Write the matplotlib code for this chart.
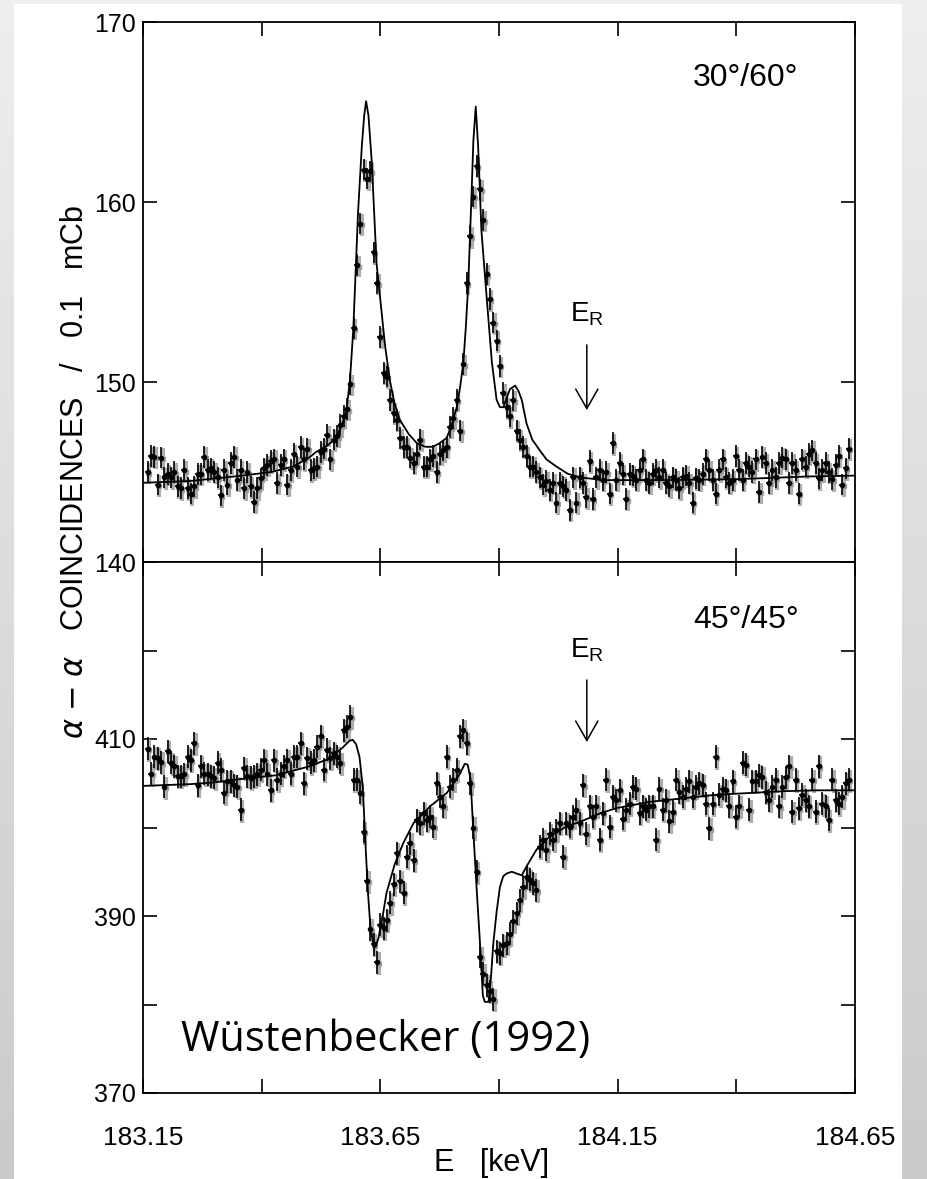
# Espectro de coincidencias alfa-alfa alrededor de 183.7 keV (Wüstenbecker 1992)
# Dos paneles: 30°/60° (arriba) y 45°/45° (abajo), datos con barras de error y ajuste.

import numpy as np  # Arreglos numéricos
import matplotlib.pyplot as plt  # Gráficos
import matplotlib.transforms as mtransforms

# Malla de energía del barrido (keV)
E_start = 183.16
E_step = 0.007

# Cuentas medidas, panel 30°/60°
counts_30_60 = [
    145.0, 145.9, 145.85, 144.3, 145.8, 144.7, 144.9, 144.7, 145.0, 144.2,
    144.1, 145.1, 144.1, 143.8, 144.2, 144.9, 144.9, 145.85, 145.1, 145.2,
    145.0, 144.7, 143.7, 145.1, 144.3, 145.5, 145.85, 144.55, 145.1, 144.1,
    145.0, 144.2, 143.35, 144.1, 144.65, 145.2, 145.4, 145.6, 145.7, 144.4,
    145.4, 145.7, 144.3, 145.1, 146.0, 145.3, 146.4, 145.7, 146.3, 145.1,
    145.2, 145.3, 146.1, 146.3, 147.05, 145.7, 146.8, 147.0, 147.6, 148.1,
    148.5, 149.9,
    153.0, 156.5, 158.8, 161.8, 161.3, 161.7, 157.2, 155.5, 152.5, 150.5,
    150.3, 149.0, 148.3, 147.9, 146.9, 146.4, 146.4, 145.8, 145.5, 146.0,
    146.8, 145.3, 145.3, 145.7, 145.9, 145.0, 146.0, 146.2, 146.4, 147.5,
    148.0, 149.0, 147.3, 151.0, 155.5, 158.1, 160.3, 162.0, 160.7, 159.0,
    156.0, 154.6, 153.3, 152.3, 150.9, 149.4, 148.6, 148.1, 149.0, 147.3,
    146.8, 146.4, 145.9, 145.3, 145.3, 145.0, 144.7, 144.3, 144.5, 144.0,
    144.4, 143.3,
    144.4, 144.2, 144.0, 142.9, 144.7, 143.3, 144.7, 144.4, 143.6, 145.6,
    143.5, 144.7, 145.1, 144.55, 145.0, 143.8, 146.6, 144.55, 145.5, 144.9,
    143.5, 144.9, 144.8, 144.55, 145.1, 145.7, 144.55, 144.4, 144.9, 145.1,
    144.7, 145.1, 144.4, 144.2, 144.7, 144.55, 144.1, 144.7, 144.8, 144.4,
    143.3, 144.65, 144.55, 144.9, 145.7, 145.1, 144.55, 143.8, 145.1, 145.7,
    144.7, 144.4, 144.55, 145.9, 145.1, 144.55, 145.5, 145.3, 145.0, 145.7,
    143.9, 145.85, 145.5, 144.4, 145.1, 144.7, 145.5, 145.8, 145.7, 144.4,
    145.5, 145.1, 143.8, 145.7, 145.3, 146.0, 146.2, 145.5, 144.65, 145.1,
    145.5, 145.0, 144.6, 145.4, 145.9, 144.3, 145.2, 146.3,
]

# Cuentas medidas, panel 45°/45°
counts_45_45 = [
    408.9, 406.1, 408.0, 407.8, 407.4, 404.6, 408.6, 407.3, 406.9, 405.8,
    405.8, 406.0, 408.0, 407.6, 409.5, 404.8, 406.9, 406.1, 406.0, 405.8,
    405.6, 407.3, 406.5, 403.9, 405.2, 405.2, 404.8, 404.6, 402.0, 406.7,
    405.8, 405.6, 405.8, 406.0, 406.5, 407.6, 406.0, 404.2, 407.6, 405.4,
    406.1, 406.9, 407.6, 406.1, 408.0, 408.0, 409.5, 405.0, 407.8, 407.3,
    407.6, 409.1, 410.3, 406.5, 408.8, 407.8, 408.4, 408.0, 407.3, 411.0,
    411.4, 412.5, 405.4,
    405.4, 403.9, 399.5, 394.0, 388.5, 386.8, 384.8, 389.0, 388.6, 389.5,
    391.5, 393.6, 397.1, 393.9, 392.6, 396.7, 398.2, 396.3, 400.8, 400.5,
    401.6, 400.8, 401.2, 400.1, 405.0, 403.5, 402.4, 408.0, 404.6, 405.4,
    406.5, 410.3, 411.0, 409.5, 405.0, 400.0, 395.0, 385.4, 383.5, 382.2,
    381.5, 380.6, 386.0, 385.8, 386.7, 386.9, 388.0, 389.4, 390.3, 391.8,
    393.3, 394.4, 394.1, 393.7, 392.9, 397.8, 398.6, 397.5, 399.3, 398.6,
    399.7, 400.5, 396.7, 400.5, 400.1, 401.2, 402.0, 400.5, 404.8, 399.3,
    402.4, 401.2, 402.4, 398.6, 401.6, 405.4, 400.1, 403.5,
    403.1, 404.2, 401.0, 402.0, 402.7, 404.6, 404.4, 401.6, 402.4, 402.0,
    402.4, 402.4, 398.6, 404.4, 402.0, 403.1, 400.7, 401.8, 405.4, 404.0,
    403.5, 404.4, 405.2, 403.5, 404.6, 405.0, 404.8, 402.7, 399.9, 402.7,
    408.0, 403.7, 404.4, 404.2, 402.4, 405.2, 401.2, 402.4, 407.3, 407.1,
    402.0, 405.2, 405.2, 405.9, 405.7, 404.0, 403.1, 404.6, 405.4, 402.4,
    404.6, 405.7, 406.9, 401.8, 405.4, 402.2, 403.7, 403.1, 402.4, 405.4,
    401.8, 406.9, 402.7, 402.4, 400.9, 405.4, 403.1, 402.7, 403.5, 405.0,
    405.4,
]

# Curva de ajuste, panel 30°/60°
fit_30_60_E = [
    183.15, 183.25, 183.36, 183.42, 183.466, 183.50, 183.514, 183.54, 183.557, 183.57,
    183.578, 183.586, 183.593, 183.603, 183.611, 183.616, 183.620, 183.625, 183.632, 183.642,
    183.653, 183.660, 183.670, 183.680, 183.691, 183.71, 183.727, 183.745, 183.761, 183.775,
    183.790, 183.80, 183.811, 183.818, 183.825, 183.830, 183.835, 183.842, 183.846, 183.851,
    183.856, 183.863, 183.874, 183.885, 183.895, 183.902, 183.909, 183.916, 183.923, 183.934,
    183.941, 183.948, 183.958, 183.970, 183.986, 184.00, 184.021, 184.045, 184.071, 184.12,
    184.25, 184.40, 184.55, 184.65,
]
fit_30_60 = [
    144.4, 144.5, 144.8, 145.0, 145.3, 145.8, 146.1, 146.5, 146.9, 147.7,
    148.3, 150.1, 152.9, 159.4, 163.1, 164.8, 165.6, 164.8, 162.2, 156.6,
    153.8, 152.0, 150.1, 148.8, 147.9, 147.1, 146.6, 146.4, 146.4, 146.6,
    146.9, 147.6, 148.6, 149.7, 151.1, 153.0, 155.3, 160.3, 163.4, 165.3,
    163.1, 158.4, 154.7, 151.1, 149.0, 148.6, 148.6, 149.1, 149.6, 149.8,
    149.5, 149.0, 147.7, 146.8, 146.2, 145.7, 145.3, 144.9, 144.7, 144.55,
    144.55, 144.6, 144.75, 144.8,
]

# Curva de ajuste, panel 45°/45°
fit_45_45_E = [
    183.15, 183.25, 183.30, 183.36, 183.43, 183.50, 183.543, 183.57, 183.585, 183.592,
    183.599, 183.606, 183.613, 183.619, 183.624, 183.629, 183.635, 183.640, 183.646, 183.655,
    183.663, 183.68, 183.698, 183.72, 183.755, 183.79, 183.818, 183.828, 183.834, 183.840,
    183.846, 183.853, 183.860, 183.866, 183.870, 183.878, 183.883, 183.888, 183.895, 183.902,
    183.909, 183.916, 183.927, 183.937, 183.948, 183.958, 183.979, 184.007, 184.042, 184.078,
    184.113, 184.148, 184.218, 184.288, 184.358, 184.429, 184.499, 184.569, 184.65,
]
fit_45_45 = [
    404.7, 404.9, 405.1, 405.5, 405.9, 406.9, 407.8, 409.0, 409.8, 409.9,
    409.4, 408.0, 404.6, 397.8, 392.6, 388.8, 386.9, 386.5, 387.5, 390.0,
    392.6, 395.8, 398.2, 400.5, 402.4, 403.9, 406.1, 407.2, 407.1, 405.5,
    399.5, 393.0, 386.9, 381.0, 380.3, 380.3, 383.0, 386.9, 390.5, 393.3,
    394.5, 394.8, 395.0, 394.8, 394.6, 395.6, 397.5, 399.0, 400.1, 400.8,
    401.6, 402.2, 402.9, 403.3, 403.7, 403.9, 404.1, 404.2, 404.2,
]

# Errores estadísticos típicos de cada panel
err_30_60 = 0.6
err_45_45 = 1.3
E_err = 0.006

# Posición de la resonancia E_R
E_R = 184.085

x_ticks = [183.15, 183.40, 183.65, 183.90, 184.15, 184.40, 184.65]
x_ticklabels = ['183.15', '', '183.65', '', '184.15', '', '184.65']

plt.rcParams['font.family'] = ['Liberation Sans', 'DejaVu Sans']

fig = plt.figure(figsize=(9.28, 11.79), dpi=100)

# Fondo gris con degradado y hoja blanca
bg = fig.add_axes([0, 0, 1, 1], zorder=-10)
bg.imshow(np.linspace(0.79, 0.93, 256).reshape(-1, 1), extent=[0, 1, 0, 1],
          aspect='auto', cmap='gray', vmin=0, vmax=1, origin='lower')
bg.add_patch(plt.Rectangle((14 / 928, 0), (902 - 14) / 928, 1 - 4 / 1179,
                           facecolor='white', edgecolor='none'))
bg.set_xlim(0, 1)
bg.set_ylim(0, 1)
bg.axis('off')

ax1 = fig.add_axes([143 / 928, 1 - 562 / 1179, 712 / 928, 540 / 1179])
ax2 = fig.add_axes([143 / 928, 1 - 1093 / 1179, 712 / 928, 531 / 1179])


def draw_panel(ax, counts, err, fit_E, fit_y):
    E = E_start + E_step * np.arange(len(counts))
    # sombra gris del escaneo
    shadow = mtransforms.offset_copy(ax.transData, fig=fig, x=1.5, y=-1.5, units='dots')
    ax.errorbar(E, counts, yerr=err, xerr=E_err, fmt='s', ms=3.5, color='0.6',
                elinewidth=3.0, capsize=0, transform=shadow, zorder=2, alpha=0.8)
    ax.errorbar(E, counts, yerr=err, xerr=E_err, fmt='o', ms=3.0, color='black',
                elinewidth=1.2, capsize=0, zorder=3)
    ax.plot(fit_E, fit_y, color='black', linewidth=1.3, zorder=4)
    ax.set_xlim(183.15, 184.65)
    ax.set_xticks(x_ticks)
    ax.tick_params(direction='in', length=10, width=1.2, top=True, right=True,
                   labelsize=18, pad=5)
    for s in ax.spines.values():
        s.set_linewidth(1.3)


draw_panel(ax1, counts_30_60, err_30_60, fit_30_60_E, fit_30_60)
draw_panel(ax2, counts_45_45, err_45_45, fit_45_45_E, fit_45_45)

ax1.set_ylim(140, 170)
ax1.set_yticks([140, 150, 160, 170])
ax1.set_xticklabels([])

ax2.set_ylim(370, 430)
ax2.set_yticks([370, 380, 390, 400, 410, 420, 430])
ax2.set_yticklabels(['370', '', '390', '', '410', '', ''])
ax2.set_xticklabels(x_ticklabels)
ax2.tick_params(axis='x', pad=24, labelsize=19)

# Etiquetas de ángulo
ax1.text(184.42, 166.9, '30°/60°', fontsize=23, ha='center', va='center')
ax2.text(184.42, 423.4, '45°/45°', fontsize=23, ha='center', va='center')

# Flechas de la resonancia
arrow = dict(arrowstyle='->,head_length=1.4,head_width=0.8', lw=1.1, color='black',
             shrinkA=0, shrinkB=0, mutation_scale=10)
ax1.text(E_R, 153.0, r'E$_\mathregular{R}$', fontsize=20, ha='center', va='bottom')
ax1.annotate('', xy=(E_R, 148.44), xytext=(E_R, 152.06), arrowprops=arrow)
ax2.text(E_R, 418.5, r'E$_\mathregular{R}$', fontsize=20, ha='center', va='bottom')
ax2.annotate('', xy=(E_R, 409.66), xytext=(E_R, 416.67), arrowprops=arrow)

ax2.text(183.23, 376.0, 'Wüstenbecker (1992)', fontsize=30, family='Open Sans',
         ha='left', va='center')

fig.text(75 / 928, 1 - 472 / 1179,
         r'$\alpha$ $-$ $\alpha$   COINCIDENCES   /   0.1   mCb',
         rotation=90, fontsize=22, ha='center', va='center')
fig.text(492 / 928, 1 - 1163 / 1179, 'E   [keV]', fontsize=22, ha='center', va='center')

fig.savefig('out.png', dpi=100)
